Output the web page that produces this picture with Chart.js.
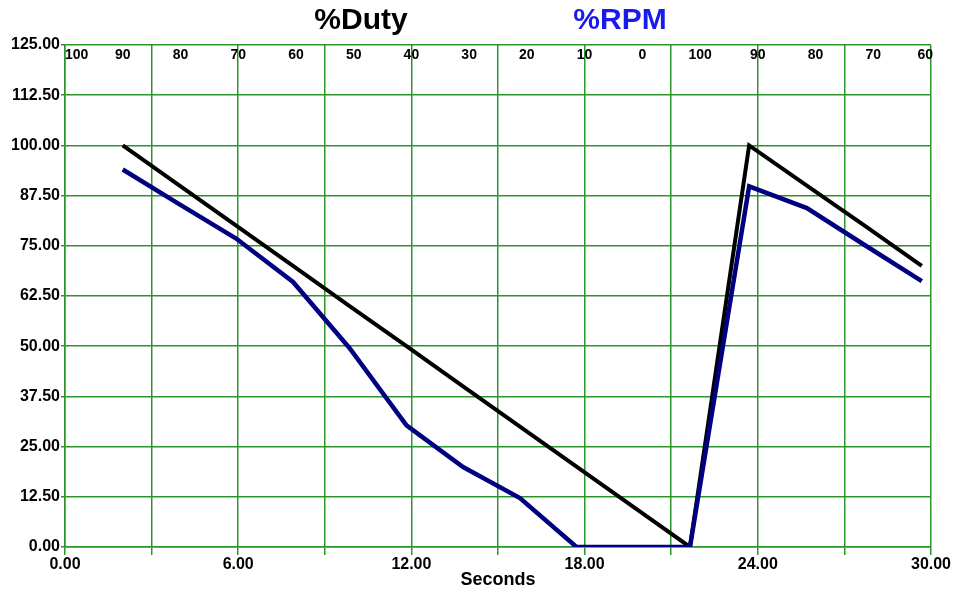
<!DOCTYPE html>
<html>
<head>
<meta charset="utf-8">
<script src="https://cdn.jsdelivr.net/npm/chart.js@4.4.0/dist/chart.umd.min.js"></script>
<style>
  html, body { margin: 0; padding: 0; background: #fff; }
  #wrap { width: 953px; height: 591px; }
</style>
</head>
<body>
<div id="wrap"><canvas id="dutyChart" width="953" height="591"></canvas></div>
<script>
// sample times (seconds)
const times = [2, 3.97, 5.93, 7.9, 9.86, 11.83, 13.79, 15.76, 17.72, 19.69, 21.65, 23.7, 25.7, 27.7, 29.68];
// %Duty
const duty = [100, 90, 80, 70, 60, 50, 40, 30, 20, 10, 0, 100, 90, 80, 70];
// %RPM
const rpm = [94, 85.3, 76.8, 66, 49.5, 30.3, 19.9, 12.2, 0, 0, 0, 89.8, 84.4, 75.2, 66.2];
// labels along the top of the plot, one every 2 seconds
const topLabels = ["100", "90", "80", "70", "60", "50", "40", "30", "20", "10", "0", "100", "90", "80", "70", "60"];

const FONT = 'Arial, "Liberation Sans", sans-serif';
const GRID = "#2a962a";

// titles and top labels
const extraText = {
  id: "extraText",
  afterDraw(chart) {
    const ctx = chart.ctx;
    const xs = chart.scales.x;
    const area = chart.chartArea;
    ctx.save();
    ctx.textBaseline = "middle";
    ctx.font = "bold 30px " + FONT;
    ctx.textAlign = "center";
    ctx.fillStyle = "#000";
    ctx.fillText("%Duty", 361, 21);
    ctx.fillStyle = "#1a1aee";
    ctx.fillText("%RPM", 620, 21);

    ctx.font = "bold 14px " + FONT;
    ctx.fillStyle = "#000";
    topLabels.forEach((lab, i) => {
      let x = xs.getPixelForValue(i * 2);
      const w = ctx.measureText(lab).width;
      x = Math.max(area.left + w / 2, Math.min(area.right + 2 - w / 2, x));
      ctx.fillText(lab, x, area.top + 10);
    });
    ctx.restore();
  }
};

const ctx1 = document.getElementById("dutyChart").getContext("2d");
const dutyChart = new Chart(ctx1, {
  type: "line",
  data: {
    datasets: [
      {
        label: "%RPM",
        data: times.map((t, i) => ({ x: t, y: rpm[i] })),
        borderColor: "#000080",
        borderWidth: 4.5,
        pointRadius: 0,
        tension: 0,
        fill: false,
        order: 0,
      },
      {
        label: "%Duty",
        data: times.map((t, i) => ({ x: t, y: duty[i] })),
        borderColor: "#000000",
        borderWidth: 4,
        pointRadius: 0,
        tension: 0,
        fill: false,
        order: 1,
      },
    ],
  },
  options: {
    responsive: false,
    animation: false,
    layout: { padding: { top: 45, right: 22, left: 0, bottom: 0 } },
    plugins: {
      legend: { display: false },
      tooltip: { enabled: false },
    },
    scales: {
      x: {
        type: "linear",
        min: 0,
        max: 30,
        afterFit: (s) => { s.height = 44; },
        ticks: {
          stepSize: 3,
          autoSkip: false,
          maxRotation: 0,
          padding: 0,
          color: "#000",
          font: { family: FONT, size: 16, weight: "bold" },
          callback: (v) => (v % 6 === 0 ? v.toFixed(2) : ""),
        },
        grid: { color: GRID, lineWidth: 1.5, tickLength: 8 },
        border: { color: GRID, width: 1.5 },
        title: {
          display: true,
          text: "Seconds",
          color: "#000",
          padding: 0,
          font: { family: FONT, size: 18, weight: "bold" },
        },
      },
      y: {
        min: 0,
        max: 125,
        afterFit: (s) => { s.width = 65; },
        ticks: {
          stepSize: 12.5,
          padding: 1,
          color: "#000",
          font: { family: FONT, size: 16, weight: "bold" },
          callback: (v) => v.toFixed(2),
        },
        grid: { color: GRID, lineWidth: 1.5, tickLength: 4 },
        border: { color: GRID, width: 1.5 },
      },
    },
  },
  plugins: [extraText],
});
</script>
</body>
</html>
